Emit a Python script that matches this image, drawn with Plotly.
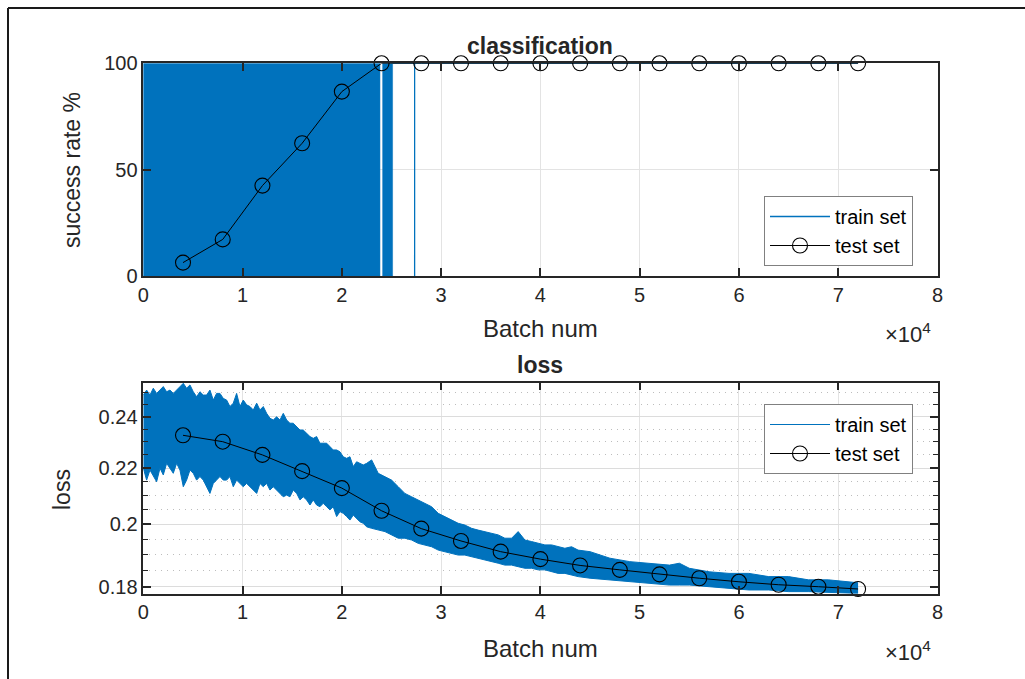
import plotly.graph_objects as go

# ---------------- data ----------------
test_batches = [4000, 8000, 12000, 16000, 20000, 24000, 28000, 32000, 36000,
                40000, 44000, 48000, 52000, 56000, 60000, 64000, 68000, 72000]
test_success = [6.3, 17.2, 42.5, 62.4, 86.7, 100, 100, 100, 100,
                100, 100, 100, 100, 100, 100, 100, 100, 100]
test_loss = [0.2326, 0.2301, 0.2250, 0.2189, 0.2127, 0.2047, 0.1986, 0.1945, 0.1910,
             0.1886, 0.1866, 0.1852, 0.1838, 0.1826, 0.1815, 0.1806, 0.1800, 0.1793]

# train accuracy flips between 0 and 100 every batch inside these batch ranges
train_dense_start = [0, 24110]
train_dense_end = [23840, 25110]
train_dense_low = [0, 0]
train_dense_high = [100, 100]
# train accuracy after the dense part (single dip to 0)
train_sparse_batches = [25110, 27330, 27330, 27330, 72000]
train_sparse_success = [100, 100, 0, 100, 100]

# train loss: upper / lower envelope of the noisy per-batch curve
loss_batches = [0, 336, 671, 1007, 1343, 1679, 2014, 2350, 2686, 3021, 3357, 3693,
                4028, 4364, 4700, 5036, 5371, 5707, 6043, 6378, 6714, 7050, 7385, 7721,
                8057, 8393, 8728, 9064, 9400, 9735, 10071, 10407, 10745, 11080, 11420,
                11750, 12085, 12425, 12760, 13090, 13430, 13765, 14100, 14440, 14770,
                15105, 15450, 15780, 16110, 16450, 16790, 17120, 17460, 17790, 18125,
                18470, 18800, 19130, 19475, 19810, 20140, 20480, 20815, 21150, 21490,
                21820, 22155, 22500, 23000, 23665, 24340, 25010, 25680, 26350, 27030,
                27690, 28370, 29040, 29710, 30380, 31060, 31720, 32390, 33070, 33735,
                34410, 35085, 35750, 36420, 37100, 37760, 38440, 39110, 39780, 40450,
                41125, 41790, 42465, 43140, 43800, 45000, 47000, 49000, 51000, 53000,
                54000, 55000, 57000, 59000, 61000, 63000, 65000, 67000, 69000, 71500,
                72000]
loss_upper = [0.2490, 0.2511, 0.2490, 0.2519, 0.2497, 0.2511, 0.2526, 0.2504, 0.2511,
              0.2497, 0.2511, 0.2526, 0.2540, 0.2519, 0.2533, 0.2504, 0.2483, 0.2504,
              0.2490, 0.2490, 0.2511, 0.2469, 0.2497, 0.2497, 0.2476, 0.2469, 0.2442,
              0.2456, 0.2497, 0.2442, 0.2469, 0.2449, 0.2442, 0.2428, 0.2456, 0.2428,
              0.2442, 0.2414, 0.2394, 0.2387, 0.2400, 0.2387, 0.2414, 0.2387, 0.2374,
              0.2374, 0.2360, 0.2347, 0.2347, 0.2334, 0.2321, 0.2314, 0.2321, 0.2295,
              0.2295, 0.2295, 0.2282, 0.2269, 0.2269, 0.2262, 0.2243, 0.2237, 0.2243,
              0.2206, 0.2224, 0.2218, 0.2212, 0.2218, 0.2231, 0.2181, 0.2169, 0.2156,
              0.2132, 0.2108, 0.2096, 0.2085, 0.2073, 0.2061, 0.2038, 0.2027, 0.2015,
              0.2004, 0.1998, 0.1987, 0.1981, 0.1976, 0.1970, 0.1965, 0.1954, 0.1954,
              0.1976, 0.1948, 0.1943, 0.1937, 0.1932, 0.1932, 0.1926, 0.1921, 0.1926,
              0.1915, 0.1910, 0.1889, 0.1878, 0.1873, 0.1867, 0.1873, 0.1857, 0.1846,
              0.1841, 0.1841, 0.1831, 0.1831, 0.1821, 0.1821, 0.1815, 0.1812]
loss_lower = [0.2200, 0.2156, 0.2193, 0.2169, 0.2150, 0.2200, 0.2175, 0.2218, 0.2200,
              0.2181, 0.2218, 0.2193, 0.2132, 0.2156, 0.2193, 0.2181, 0.2156, 0.2169,
              0.2156, 0.2132, 0.2108, 0.2144, 0.2156, 0.2169, 0.2156, 0.2156, 0.2169,
              0.2132, 0.2156, 0.2144, 0.2132, 0.2144, 0.2132, 0.2120, 0.2108, 0.2144,
              0.2132, 0.2144, 0.2120, 0.2132, 0.2120, 0.2108, 0.2096, 0.2102, 0.2096,
              0.2120, 0.2108, 0.2085, 0.2096, 0.2085, 0.2067, 0.2085, 0.2067, 0.2061,
              0.2073, 0.2061, 0.2050, 0.2061, 0.2027, 0.2044, 0.2038, 0.2027, 0.2015,
              0.2032, 0.2021, 0.2009, 0.2004, 0.1992, 0.1987, 0.1981, 0.1976, 0.1965,
              0.1954, 0.1954, 0.1948, 0.1937, 0.1932, 0.1926, 0.1915, 0.1910, 0.1905,
              0.1899, 0.1899, 0.1894, 0.1889, 0.1883, 0.1878, 0.1873, 0.1867, 0.1867,
              0.1862, 0.1857, 0.1857, 0.1852, 0.1852, 0.1846, 0.1841, 0.1841, 0.1836,
              0.1831, 0.1826, 0.1821, 0.1815, 0.1810, 0.1805, 0.1805, 0.1805, 0.1800,
              0.1795, 0.1790, 0.1790, 0.1785, 0.1785, 0.1782, 0.1780, 0.1780]

x_tick_vals = [0, 10000, 20000, 30000, 40000, 50000, 60000, 70000, 80000]
x_tick_text = ["0", "1", "2", "3", "4", "5", "6", "7", "8"]
acc_tick_vals = [0, 50, 100]
loss_tick_vals = [0.18, 0.2, 0.22, 0.24]
loss_tick_text = ["0.18", "0.2", "0.22", "0.24"]
loss_minor_vals = [0.185, 0.19, 0.195, 0.205, 0.21, 0.215, 0.225, 0.23, 0.235, 0.245, 0.25]

# ---------------- styling ----------------
W, H = 1025, 679
BLUE = "#0072BD"
AX = "#262626"
FONT = "Liberation Sans, Arial, Helvetica, sans-serif"

def px_x(p):
    return p / W

def px_y(p):
    return 1 - p / H

fig = go.Figure()

# ---- top: classification ----
fig.add_trace(go.Scatter(
    x=train_sparse_batches, y=train_sparse_success, mode="lines",
    line=dict(color=BLUE, width=1.3), name="train set",
    xaxis="x", yaxis="y", legend="legend"))
dx, dy = [], []
for a, b, lo, hi in zip(train_dense_start, train_dense_end, train_dense_low, train_dense_high):
    dx += [a, a, b, b, a, None]
    dy += [lo, hi, hi, lo, lo, None]
fig.add_trace(go.Scatter(
    x=dx, y=dy, mode="lines", fill="toself", fillcolor=BLUE,
    line=dict(color=BLUE, width=0.5), showlegend=False,
    xaxis="x", yaxis="y", hoverinfo="skip"))
fig.add_trace(go.Scatter(
    x=test_batches, y=test_success, mode="lines+markers", name="test set",
    line=dict(color="black", width=1),
    marker=dict(symbol="circle-open", size=15, color="black", line=dict(width=1.1)),
    cliponaxis=False, xaxis="x", yaxis="y", legend="legend"))

# ---- bottom: loss ----
fig.add_trace(go.Scatter(
    x=loss_batches, y=loss_lower, mode="lines", name="train set",
    line=dict(color=BLUE, width=1), xaxis="x2", yaxis="y2", legend="legend2"))
fig.add_trace(go.Scatter(
    x=loss_batches, y=loss_upper, mode="lines", fill="tonexty", fillcolor=BLUE,
    line=dict(color=BLUE, width=1), showlegend=False,
    xaxis="x2", yaxis="y2", hoverinfo="skip"))
fig.add_trace(go.Scatter(
    x=test_batches, y=test_loss, mode="lines+markers", name="test set",
    line=dict(color="black", width=1),
    marker=dict(symbol="circle-open", size=15, color="black", line=dict(width=1.1)),
    cliponaxis=False, xaxis="x2", yaxis="y2", legend="legend2"))

tickfont = dict(family=FONT, size=20, color=AX)
axcommon = dict(
    showline=True, linecolor=AX, linewidth=1.5, mirror="ticks",
    ticks="inside", ticklen=8, tickcolor=AX, tickwidth=1.5,
    showgrid=True, gridwidth=1, zeroline=False, automargin=False,
    tickfont=tickfont, fixedrange=True)
xcommon = dict(range=[0, 80000], tickmode="array", tickvals=x_tick_vals,
               ticktext=x_tick_text, gridcolor="#e3e3e3", **axcommon)

L, R = px_x(143.3), px_x(937.5)
legend_style = dict(xanchor="right", yanchor="top", traceorder="normal",
                    bgcolor="white", bordercolor="#808080", borderwidth=1,
                    font=dict(family=FONT, size=20, color="black"),
                    tracegroupgap=0, itemwidth=60)
fig.update_layout(
    template="none",
    width=W, height=H, autosize=False,
    margin=dict(l=0, r=0, t=0, b=0, pad=0),
    paper_bgcolor="white", plot_bgcolor="white",
    font=dict(family=FONT, color=AX),
    xaxis=dict(domain=[L, R], anchor="y", **xcommon),
    yaxis=dict(domain=[px_y(276), px_y(63.3)], anchor="x", range=[0, 100],
               tickmode="array", tickvals=acc_tick_vals, gridcolor="#e3e3e3",
               **axcommon),
    xaxis2=dict(domain=[L, R], anchor="y2", **xcommon),
    yaxis2=dict(domain=[px_y(593.7), px_y(382.7)], anchor="x2", type="log",
                range=[-0.74988, -0.59471],
                tickmode="array", tickvals=loss_tick_vals, ticktext=loss_tick_text,
                gridcolor="#dcdcdc",
                minor=dict(tickmode="array", tickvals=loss_minor_vals, ticks="inside",
                           ticklen=5, tickcolor=AX, tickwidth=1.2, showgrid=True,
                           gridcolor="#bdbdbd", griddash="1px,5px", gridwidth=1),
                **axcommon),
    legend=dict(x=px_x(913), y=px_y(196), **legend_style),
    legend2=dict(x=px_x(913), y=px_y(404), **legend_style),
    showlegend=True,
)

ann = [
    dict(text="<b>classification</b>", x=px_x(540), y=px_y(46), size=23),
    dict(text="<b>loss</b>", x=px_x(540), y=px_y(365), size=23),
    dict(text="Batch num", x=px_x(540), y=px_y(328), size=24),
    dict(text="Batch num", x=px_x(540), y=px_y(648), size=24),
    dict(text="×10<sup>4</sup>", x=px_x(908), y=px_y(333), size=22),
    dict(text="×10<sup>4</sup>", x=px_x(908), y=px_y(651), size=22),
]
for a in ann:
    fig.add_annotation(text=a["text"], x=a["x"], y=a["y"], xref="paper", yref="paper",
                       showarrow=False, xanchor="center", yanchor="middle",
                       font=dict(family=FONT, size=a["size"], color=AX))
fig.add_annotation(text="success rate %", x=px_x(72), y=px_y(170), xref="paper", yref="paper",
                   showarrow=False, textangle=-90, xanchor="center", yanchor="middle",
                   font=dict(family=FONT, size=23, color=AX))
fig.add_annotation(text="loss", x=px_x(62), y=px_y(490), xref="paper", yref="paper",
                   showarrow=False, textangle=-90, xanchor="center", yanchor="middle",
                   font=dict(family=FONT, size=23, color=AX))

# page frame (left and top border of the scanned page)
fig.add_shape(type="line", xref="paper", yref="paper", x0=px_x(8), x1=px_x(8),
              y0=-0.05, y1=px_y(8), line=dict(color="#1a1a1a", width=2))
fig.add_shape(type="line", xref="paper", yref="paper", x0=px_x(8), x1=1.05,
              y0=px_y(8), y1=px_y(8), line=dict(color="#1a1a1a", width=2))

fig.write_html("out.html", config={"displayModeBar": False},
               post_script="document.body.style.margin='0';document.body.style.overflow='hidden';")
